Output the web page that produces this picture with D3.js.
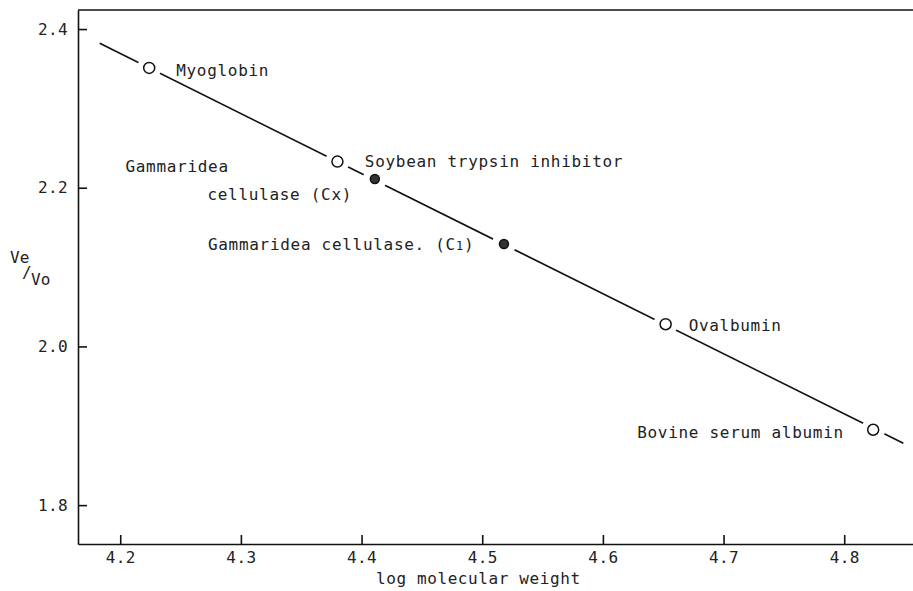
<!DOCTYPE html>
<html>
<head>
<meta charset="utf-8">
<script src="https://cdn.jsdelivr.net/npm/d3@7"></script>
<style>
  body { margin: 0; background: #fff; }
  svg text { font-family: 'DejaVu Sans Mono', monospace; fill: #222; }
</style>
</head>
<body>
<svg class="chart"></svg>
<script>
const width = 913
const height = 591
const margin = { top: 10, right: 0, bottom: 47, left: 78 }

// calibration proteins
const proteins = [
  'Myoglobin',
  'Gammaridea cellulase (Cx)',
  'Soybean trypsin inhibitor',
  'Gammaridea cellulase (C1)',
  'Ovalbumin',
  'Bovine serum albumin'
]
const logMW = [4.224, 4.38, 4.411, 4.518, 4.652, 4.824]
const veVo = [2.351, 2.233, 2.211, 2.129, 2.028, 1.895]
const filled = [false, false, true, true, false, false]

// fitted line ends
const fitX = [4.183, 4.849]
const fitY = [2.382, 1.878]

const xTicks = [4.2, 4.3, 4.4, 4.5, 4.6, 4.7, 4.8]
const yTicks = [1.8, 2.0, 2.2, 2.4]

// label placement (pixel offsets from point), lines of text
const labels = [
  { i: 0, lines: [['Myoglobin', 27, 8]] },
  { i: 1, lines: [['Gammaridea', -212, 10], ['cellulase (Cx)', -130, 38]] },
  { i: 2, lines: [['Soybean trypsin inhibitor', -10, -12]] },
  { i: 3, lines: [['Gammaridea cellulase. (C', -296, 6, '1)']] },
  { i: 4, lines: [['Ovalbumin', 23, 7]] },
  { i: 5, lines: [['Bovine serum albumin', -236, 8]] }
]

const x = d3.scaleLinear().domain([4.165, 4.857]).range([margin.left, width - margin.right])
const y = d3.scaleLinear().domain([1.751, 2.424]).range([height - margin.bottom, margin.top])

const data = proteins.map((name, i) => ({ name, x: logMW[i], y: veVo[i], filled: filled[i] }))

const svg = d3.select('.chart').attr('width', width).attr('height', height)

const styleAxis = g => {
  g.selectAll('path, line').attr('stroke', '#111').attr('stroke-width', 1.6)
  g.selectAll('text')
    .attr('font-size', 16)
    .attr('letter-spacing', '0.4px')
    .attr('fill', '#222')
    .attr('font-family', "'DejaVu Sans Mono', monospace")
}

svg.append('g')
  .attr('transform', `translate(0,${height - margin.bottom})`)
  .call(d3.axisBottom(x).tickValues(xTicks).tickFormat(d3.format('.1f')).tickSize(-9).tickSizeOuter(0).tickPadding(8))
  .call(styleAxis)

svg.append('g')
  .attr('transform', `translate(${margin.left},0)`)
  .call(d3.axisLeft(y).tickValues(yTicks).tickFormat(d3.format('.1f')).tickSize(-9).tickSizeOuter(0).tickPadding(10))
  .call(styleAxis)

// top frame line
svg.append('line')
  .attr('x1', margin.left).attr('x2', width)
  .attr('y1', margin.top).attr('y2', margin.top)
  .attr('stroke', '#111').attr('stroke-width', 1.6)

// axis titles
svg.append('text')
  .attr('x', 376).attr('y', 584)
  .attr('font-size', 16).attr('letter-spacing', '0.6px')
  .text('log molecular weight')

const yl = svg.append('g').attr('font-size', 16)
yl.append('text').attr('x', 10).attr('y', 263).text('Ve')
yl.append('text').attr('x', 22).attr('y', 278).text('/')
yl.append('text').attr('x', 31).attr('y', 285).text('Vo')

// fitted line
svg.append('path')
  .attr('d', d3.line()([[x(fitX[0]), y(fitY[0])], [x(fitX[1]), y(fitY[1])]]))
  .attr('stroke', '#111').attr('stroke-width', 1.7).attr('fill', 'none')

// gaps around markers
svg.append('g')
  .selectAll('circle')
  .data(data)
  .join('circle')
  .attr('cx', d => x(d.x)).attr('cy', d => y(d.y))
  .attr('r', 12)
  .attr('fill', '#fff')

svg.append('g')
  .selectAll('circle')
  .data(data)
  .join('circle')
  .attr('cx', d => x(d.x)).attr('cy', d => y(d.y))
  .attr('r', d => d.filled ? 4.5 : 5.5)
  .attr('fill', d => d.filled ? '#333' : '#fff')
  .attr('stroke', '#111')
  .attr('stroke-width', 1.5)

// point labels
labels.forEach(l => {
  const d = data[l.i]
  l.lines.forEach(([txt, dx, dy, sub]) => {
    const t = svg.append('text')
      .attr('x', x(d.x) + dx).attr('y', y(d.y) + dy)
      .attr('font-size', 16).attr('letter-spacing', '0.7px')
      .text(txt)
    if (sub) {
      t.append('tspan').attr('font-size', 12).text(sub.slice(0, 1))
      t.append('tspan').attr('font-size', 16).text(sub.slice(1))
    }
  })
})
</script>
</body>
</html>
